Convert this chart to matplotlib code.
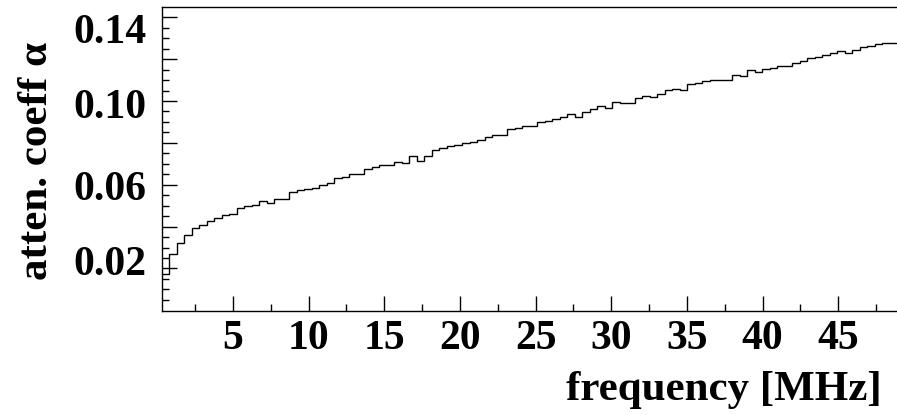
import numpy as np
import matplotlib.pyplot as plt
from matplotlib.transforms import ScaledTranslation

# histogram binning (MHz)
freq_start = 0.3
bin_width = 0.496

# attenuation coefficient per bin
alpha = [0.0172, 0.0269, 0.0321, 0.0359, 0.0392, 0.0407, 0.0429, 0.0443, 0.0454, 0.0459,
         0.0491, 0.0498, 0.0504, 0.0520, 0.0511, 0.0533, 0.0533, 0.0565, 0.0575, 0.0581,
         0.0583, 0.0600, 0.0608, 0.0631, 0.0638, 0.0650, 0.0650, 0.0675, 0.0683, 0.0696,
         0.0696, 0.0711, 0.0702, 0.0737, 0.0714, 0.0738, 0.0767, 0.0775, 0.0784, 0.0792,
         0.0799, 0.0804, 0.0815, 0.0827, 0.0839, 0.0839, 0.0866, 0.0871, 0.0879, 0.0880,
         0.0900, 0.0906, 0.0913, 0.0922, 0.0936, 0.0925, 0.0946, 0.0962, 0.0976, 0.0965,
         0.0994, 0.0990, 0.0990, 0.1015, 0.1025, 0.1018, 0.1035, 0.1053, 0.1057, 0.1053,
         0.1083, 0.1088, 0.1096, 0.1102, 0.1100, 0.1100, 0.1126, 0.1118, 0.1147, 0.1137,
         0.1154, 0.1159, 0.1169, 0.1169, 0.1183, 0.1190, 0.1204, 0.1209, 0.1218, 0.1228,
         0.1240, 0.1231, 0.1242, 0.1258, 0.1264, 0.1271, 0.1277, 0.1277]

x_major = [5, 10, 15, 20, 25, 30, 35, 40, 45]
y_labels = [0.02, 0.06, 0.10, 0.14]
y_label_drop = [6.7, 15.3, 17.3, 26.0]   # px below tick to the label baseline

font = 'Liberation Serif'

edges = freq_start + bin_width*np.arange(len(alpha) + 1)

fig = plt.figure(figsize=(8.97, 4.15), dpi=100)
ax = fig.add_axes([161.7/897, 1 - 310.7/415, 1 - 161.7/897, 303.2/415])

ax.stairs(alpha, edges, color='black', lw=1.0, baseline=None)

ax.set_xlim(freq_start, 48.88)
ax.set_ylim(-0.0002, 0.1447)

ax.spines['right'].set_visible(False)
for s in ['left', 'bottom', 'top']:
	ax.spines[s].set_linewidth(1.0)

ax.set_xticks(x_major)
ax.set_xticks(np.arange(2.5, 48.9, 5), minor=True)
ax.set_yticks(np.arange(0.02, 0.141, 0.02))
ax.set_yticks(np.arange(0.005, 0.1447, 0.005), minor=True)
ax.set_yticklabels([])
ax.set_xticklabels([str(v) for v in x_major], fontfamily=font, fontweight='bold', fontsize=30)

ax.tick_params(which='major', direction='in', length=10.5, width=1.0)
ax.tick_params(which='minor', direction='in', length=5.2, width=1.0)
ax.tick_params(axis='x', pad=6.5)

for v, d in zip(y_labels, y_label_drop):
	tr = ax.get_yaxis_transform() + ScaledTranslation(-0.15, -d/100, fig.dpi_scale_trans)
	ax.text(0, v, "%.2f" % v, transform=tr, ha='right', va='baseline',
		fontfamily=font, fontweight='bold', fontsize=30)

fig.text(882/897, 1 - 400/415, "frequency [MHz]", ha='right', va='baseline',
	fontfamily=font, fontweight='bold', fontsize=31)
fig.text(47.5/897, 1 - 41.7/415, "atten. coeff α", ha='right', va='baseline',
	rotation=90, rotation_mode='anchor', fontfamily=font, fontweight='bold', fontsize=31)

plt.savefig("out.png", dpi=100)
